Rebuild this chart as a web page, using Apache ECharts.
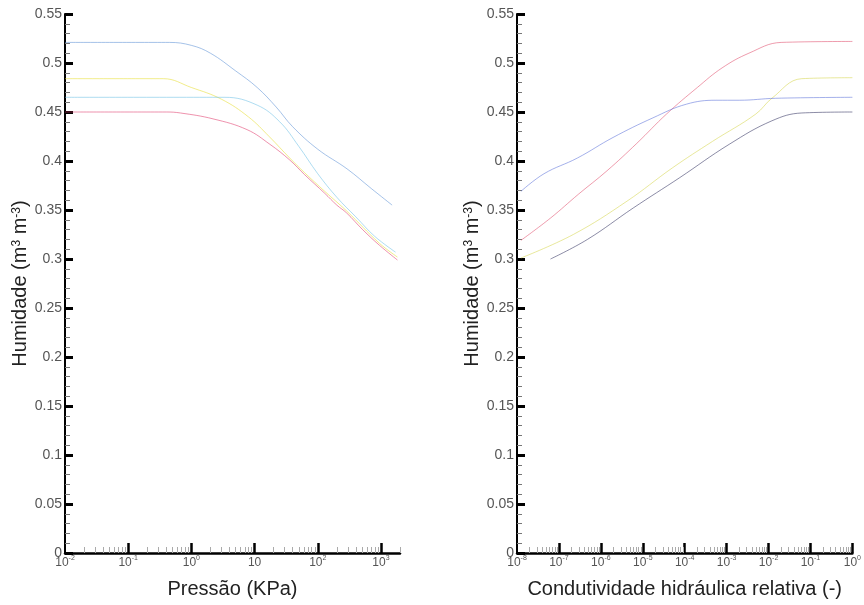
<!DOCTYPE html>
<html>
<head>
<meta charset="utf-8">
<script src="https://cdn.jsdelivr.net/npm/echarts@6/dist/echarts.min.js"></script>
<style>
html, body { margin: 0; padding: 0; background: #fff; }
#chart { width: 864px; height: 605px; }
</style>
</head>
<body>
<div id="chart"></div>
<script>
// curvas humidade x pressao (kPa)
var pressaoAzul = [[0.01,0.521],[0.45,0.521],[1,0.518],[2,0.51],[5,0.492],[11,0.475],[22,0.455],[40,0.435],[100,0.412],[290,0.392],[700,0.372],[1500,0.355]];
var pressaoAmarelo = [[0.01,0.484],[0.36,0.484],[1,0.475],[3,0.463],[8,0.445],[17,0.425],[36,0.403],[62,0.388],[129,0.369],[286,0.349],[946,0.316],[1820,0.302]];
var pressaoCiano = [[0.01,0.465],[3.4,0.465],[11,0.457],[25,0.44],[50,0.415],[100,0.387],[200,0.363],[400,0.343],[800,0.323],[1700,0.307]];
var pressaoVermelho = [[0.01,0.45],[0.4,0.45],[0.67,0.449],[2.2,0.443],[7.6,0.432],[17.5,0.417],[36,0.401],[62,0.386],[129,0.367],[200,0.355],[286,0.347],[512,0.33],[946,0.314],[1820,0.299]];

// curvas humidade x condutividade relativa
var condVermelho = [[1.24e-8,0.319],[6.4e-8,0.342],[2.9e-7,0.366],[1.4e-6,0.39],[7.2e-6,0.418],[3.7e-5,0.448],[2.0e-4,0.475],[7.8e-4,0.495],[3.4e-3,0.51],[0.02,0.521],[1,0.522]];
var condAmarelo = [[1.24e-8,0.301],[2.2e-7,0.325],[4.2e-6,0.359],[5.1e-5,0.393],[4.6e-4,0.42],[5.0e-3,0.448],[0.012,0.464],[0.062,0.484],[1,0.485]];
var condAzul = [[1.24e-8,0.369],[4.4e-8,0.387],[2.75e-7,0.403],[1.95e-6,0.424],[1.74e-5,0.444],[1.1e-4,0.458],[5.6e-4,0.462],[2.0e-3,0.462],[0.0148,0.464],[1,0.465]];
var condEscuro = [[6.3e-8,0.30],[4.8e-7,0.32],[5.9e-6,0.352],[7.6e-5,0.383],[1.15e-3,0.417],[0.012,0.441],[0.062,0.449],[1,0.45]];

var ticksPressao = [0.1, 1, 10, 100, 1000];
var ticksCond = [1e-7, 1e-6, 1e-5, 1e-4, 1e-3, 1e-2, 1e-1, 1];

// ticks secundarios 2..9 de cada decada
var menores = function (e0, e1, mx) {
    var out = [];
    for (var e = e0; e < e1; e++) {
        for (var k = 2; k <= 9; k++) {
            var v = k * Math.pow(10, e);
            if (v <= mx) out.push(v);
        }
    }
    return out;
};

var chart = echarts.init(document.getElementById('chart'));

var supRich = {
    b: { fontSize: 12, color: '#555', fontFamily: 'Arial', lineHeight: 15 },
    s: { fontSize: 7, color: '#555', fontFamily: 'Arial', verticalAlign: 'top' }
};

var decadeLabel = function (v) {
    var e = Math.round(Math.log(v) / Math.LN10);
    if (Math.abs(v - Math.pow(10, e)) > Math.pow(10, e) * 1e-6) return '';
    if (e === 1) return '{b|10}';
    return '{b|10}{s|' + e + '}';
};

var yAxisBase = function (gi) {
    return {
        type: 'value',
        gridIndex: gi,
        min: 0,
        max: 0.55,
        interval: 0.05,
        name: 'Humidade (m{s|3} m{s|-3})',
        nameLocation: 'middle',
        nameGap: 33,
        nameTextStyle: {
            fontSize: 20, color: '#222', fontFamily: 'Arial',
            rich: {
                s: { fontSize: 12, color: '#222', fontFamily: 'Arial', verticalAlign: 'top' }
            }
        },
        axisLine: { show: true, lineStyle: { color: '#000', width: 2 } },
        axisTick: { show: true, inside: true, length: 8, lineStyle: { color: '#000', width: 3 } },
        minorTick: { show: true, splitNumber: 5, length: 5, lineStyle: { color: '#777', width: 1 } },
        splitLine: { show: false },
        axisLabel: { color: '#555', fontSize: 14, fontFamily: 'Arial', margin: 3 }
    };
};

var xAxisBase = function (gi, mn, mx, nome, ticks) {
    return {
        type: 'log',
        gridIndex: gi,
        position: 'bottom',
        min: mn,
        max: mx,
        logBase: 10,
        name: nome,
        nameLocation: 'middle',
        nameGap: 26,
        nameTextStyle: { fontSize: 20, color: '#222', fontFamily: 'Arial' },
        axisLine: { show: true, onZero: false, lineStyle: { color: '#000', width: 2.5 } },
        axisTick: { show: true, inside: true, length: 10, customValues: ticks, lineStyle: { color: '#000', width: 2.5 } },
        splitLine: { show: false },
        axisLabel: { formatter: decadeLabel, rich: supRich, margin: 2, showMaxLabel: true }
    };
};

var xAxisMenor = function (gi, mn, mx, ticks) {
    return {
        type: 'log',
        gridIndex: gi,
        position: 'bottom',
        min: mn,
        max: mx,
        logBase: 10,
        axisLine: { show: false, onZero: false },
        axisTick: { show: true, inside: true, length: 6, customValues: ticks, lineStyle: { color: '#aaa', width: 1 } },
        splitLine: { show: false },
        axisLabel: { show: false }
    };
};

var linha = function (nome, dados, cor, xi) {
    return {
        name: nome,
        type: 'line',
        xAxisIndex: xi,
        yAxisIndex: xi,
        data: dados,
        showSymbol: false,
        smooth: 0.4,
        lineStyle: { color: cor, width: 1, opacity: 0.55 },
        animation: false
    };
};

var option = {
    backgroundColor: '#fff',
    animation: false,
    grid: [
        { left: 65, top: 14, width: 335, bottom: 52 },
        { left: 517, top: 14, width: 338, bottom: 52 }
    ],
    xAxis: [
        xAxisBase(0, 0.01, 2000, 'Pressão (KPa)', ticksPressao),
        xAxisBase(1, 1e-8, 1, 'Condutividade hidráulica relativa (-)', ticksCond),
        xAxisMenor(0, 0.01, 2000, menores(-2, 4, 2000)),
        xAxisMenor(1, 1e-8, 1, menores(-8, 0, 1))
    ],
    yAxis: [yAxisBase(0), yAxisBase(1)],
    series: [
        linha('azul', pressaoAzul, '#5b8fd6', 0),
        linha('amarelo', pressaoAmarelo, '#e6dc2a', 0),
        linha('ciano', pressaoCiano, '#6cc0e6', 0),
        linha('vermelho', pressaoVermelho, '#e0386a', 0),
        linha('vermelho', condVermelho, '#e04a6a', 1),
        linha('amarelo', condAmarelo, '#d6d64a', 1),
        linha('azul', condAzul, '#5a6fd8', 1),
        linha('escuro', condEscuro, '#2e2e5c', 1)
    ]
};

chart.setOption(option);
</script>
</body>
</html>
